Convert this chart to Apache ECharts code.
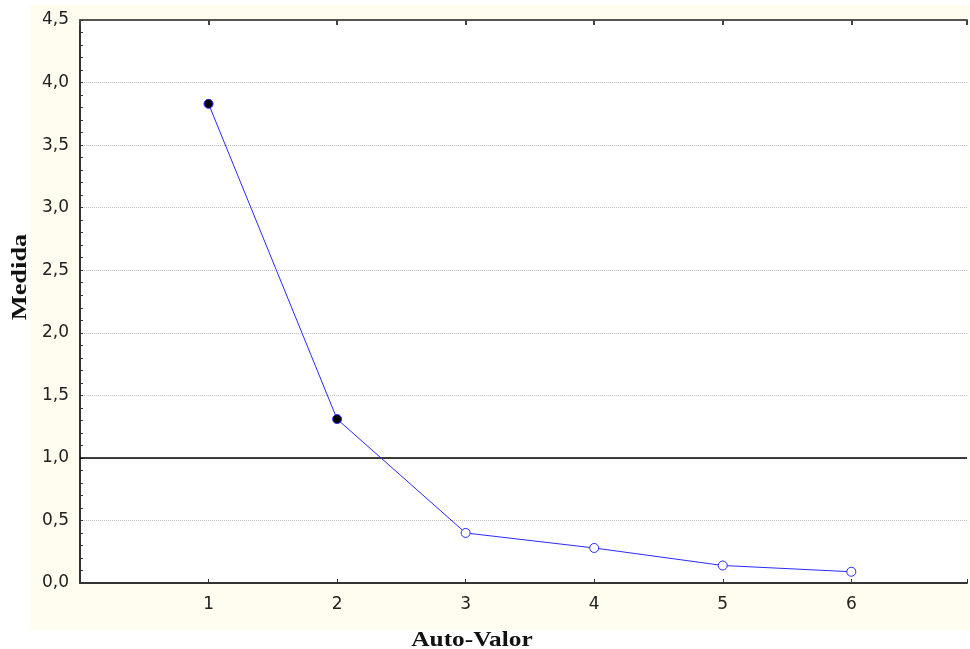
<!DOCTYPE html>
<html>
<head>
<meta charset="utf-8">
<script src="https://cdn.jsdelivr.net/npm/echarts@6/dist/echarts.min.js"></script>
<style>html,body{margin:0;padding:0;background:#fff;}#c{width:970px;height:649px;}</style>
</head>
<body>
<div id="c"></div>
<script>
var categories = [1, 2, 3, 4, 5, 6];
var values = [3.83, 1.31, 0.40, 0.28, 0.14, 0.09];
var retained = [true, true, false, false, false, false];
var yTicks = [0, 0.5, 1, 1.5, 2, 2.5, 3, 3.5, 4, 4.5];
var cutoff = 1.0;

var chart = echarts.init(document.getElementById('c'), null, {renderer: 'canvas'});
var pts = categories.map(function (c, i) {
  return {
    value: [c, values[i]],
    itemStyle: retained[i] ? {color: '#000000', borderColor: '#2a2aff', borderWidth: 1}
                           : {color: '#ffffff', borderColor: '#2a2aff', borderWidth: 1}
  };
});
function fmt(v) { return v.toFixed(1).replace('.', ','); }
var option = {
  animation: false,
  backgroundColor: '#ffffff',
  graphic: [
    {type: 'rect', z: -10, shape: {x: 30, y: 5, width: 940, height: 625}, style: {fill: '#fffcf0'}},
    {type: 'text', z: 10, x: 472, y: 640, scaleX: 1.15, scaleY: 1,
     style: {text: 'Auto-Valor', fill: '#111', font: 'bold 22px "Liberation Serif"', align: 'center', verticalAlign: 'middle'}},
    {type: 'text', z: 10, x: 20, y: 277, rotation: Math.PI / 2, scaleX: 1.2, scaleY: 1,
     style: {text: 'Medida', fill: '#111', font: 'bold 22px "Liberation Serif"', align: 'center', verticalAlign: 'middle'}}
  ],
  grid: {left: 80, top: 20, right: 0, bottom: 66, show: true, backgroundColor: '#ffffff', borderWidth: 0},
  xAxis: [
    {type: 'value', min: 0, max: 6.9, interval: 1, position: 'bottom',
     axisLine: {show: true, lineStyle: {color: '#333', width: 2}},
     axisTick: {show: true, inside: true, length: 4, lineStyle: {color: '#333', width: 1}},
     axisLabel: {margin: 13, color: '#222', fontSize: 17, fontFamily: 'DejaVu Sans',
                 formatter: function (v) { return categories.indexOf(v) >= 0 ? String(v) : ''; }},
     splitLine: {show: false}},
    {type: 'value', min: 0, max: 6.9, interval: 1, position: 'top',
     axisLine: {show: true, lineStyle: {color: '#555', width: 2}},
     axisTick: {show: true, inside: true, length: 5, lineStyle: {color: '#444', width: 2}},
     axisLabel: {show: false}, splitLine: {show: false}}
  ],
  yAxis: {
    type: 'value', min: 0, max: 4.5, interval: 0.5,
    axisLine: {show: true, lineStyle: {color: '#333', width: 2}},
    axisTick: {show: true, inside: true, length: 3, lineStyle: {color: '#333', width: 1}},
    minorTick: {show: true, splitNumber: 5, length: 3, lineStyle: {color: '#333', width: 1}},
    axisLabel: {margin: 11, color: '#222', fontSize: 17, fontFamily: 'DejaVu Sans',
                formatter: function (v) { return fmt(v); }},
    splitLine: {show: true, lineStyle: {color: '#bdbdbd', type: 'dotted', width: 1}}
  },
  series: [{
    type: 'line', xAxisIndex: 0, data: pts, symbol: 'circle', symbolSize: 9,
    lineStyle: {color: '#2a2aff', width: 1},
    itemStyle: {color: '#fff', borderColor: '#2a2aff'},
    markLine: {silent: true, symbol: 'none', label: {show: false},
               lineStyle: {color: '#000', type: 'solid', width: 1.5},
               data: [{yAxis: cutoff}]},
    z: 5
  }]
};
chart.setOption(option);
</script>
</body>
</html>
